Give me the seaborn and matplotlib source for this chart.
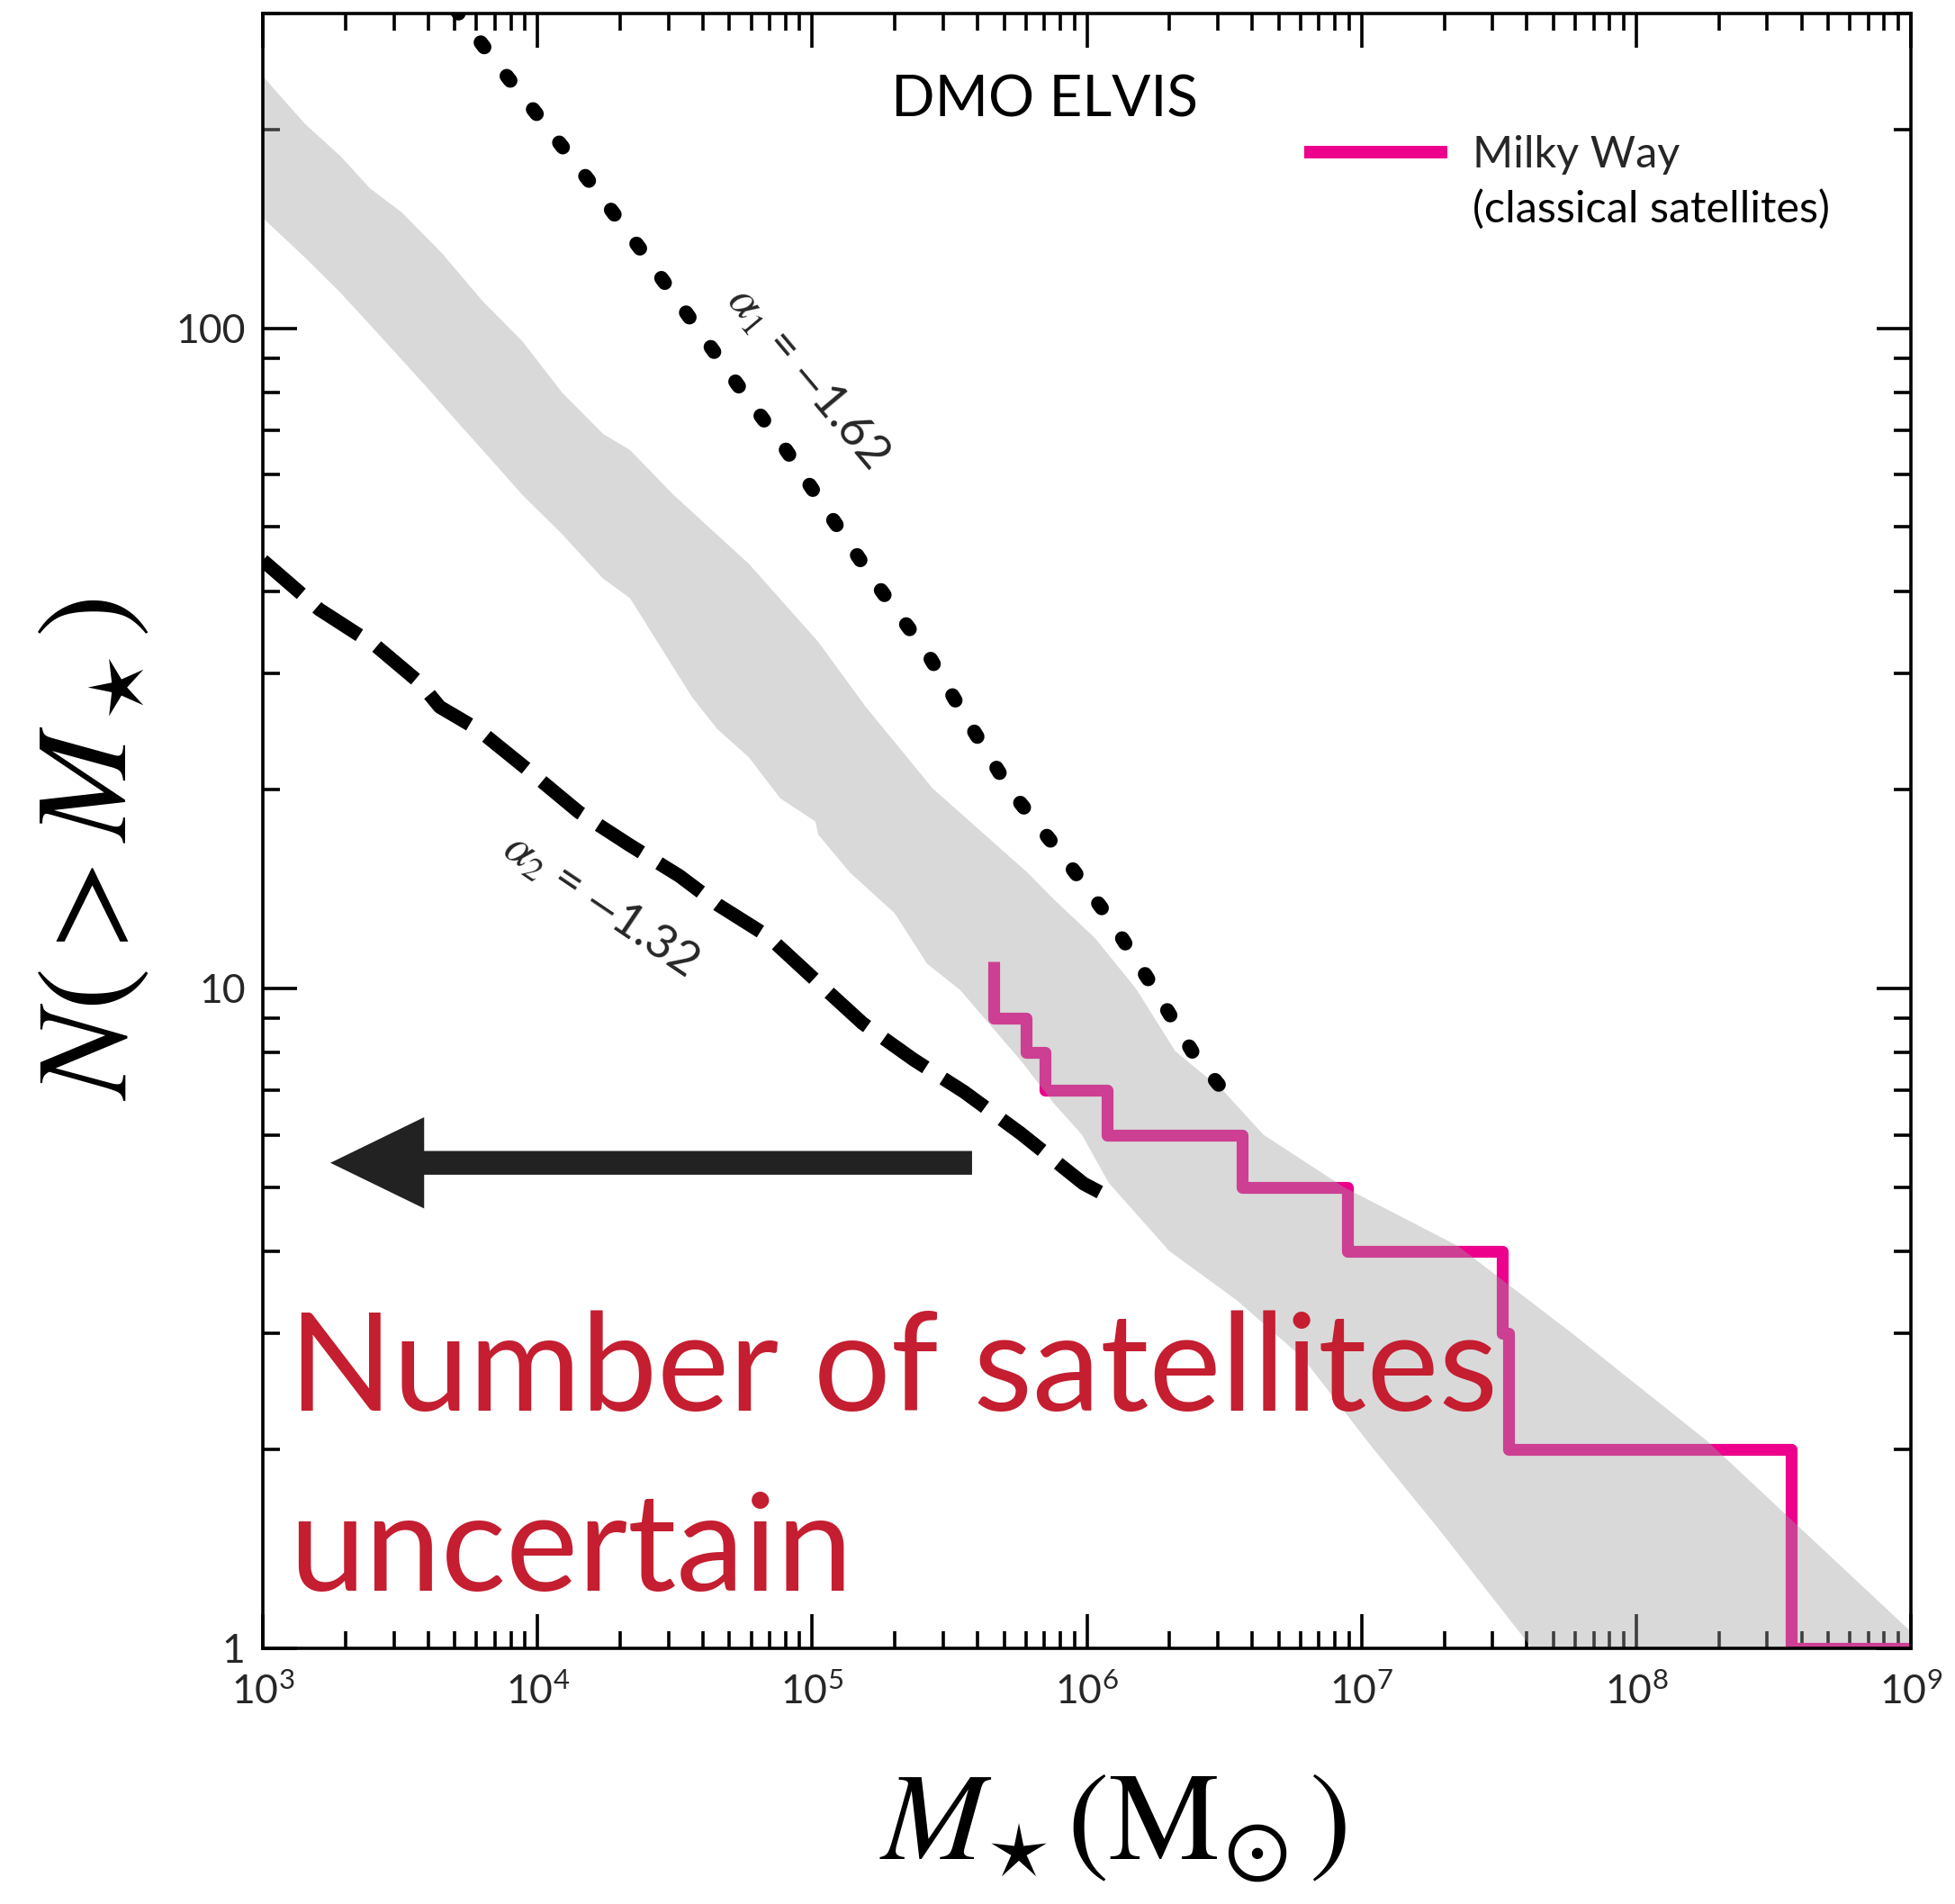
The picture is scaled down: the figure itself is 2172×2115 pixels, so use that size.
import numpy as np
import pandas as pd
import matplotlib
matplotlib.use("Agg")
import matplotlib.pyplot as plt
import seaborn as sns
from matplotlib.ticker import FixedLocator, FuncFormatter, NullFormatter

# ---------------- data (log10 of stellar mass, cumulative counts) ----------------
band_upper_logm = [3.0, 3.154, 3.285, 3.39, 3.505, 3.652, 3.80, 3.944, 4.091, 4.239,
                   4.337, 4.494, 4.769, 5.022, 5.195, 5.438, 5.782, 5.883, 6.031,
                   6.178, 6.322, 6.496, 6.643, 6.935, 7.351, 7.767, 8.259, 8.527, 9.0]
band_upper_n = [241, 204, 182, 163, 150, 130, 110, 95.7, 79.8, 69.2,
                65.4, 56, 44, 33.5, 26.7, 20.1, 15.0, 13.6, 11.9,
                10.0, 8.03, 7.0, 6.0, 5.0, 4.07, 3.0, 2.06, 1.62, 1.06]
band_lower_logm = [3.0, 3.154, 3.285, 3.433, 3.579, 3.695, 3.80, 3.944, 4.091, 4.238,
                   4.337, 4.563, 4.655, 4.769, 4.884, 5.012, 5.022, 5.136, 5.30,
                   5.418, 5.539, 5.638, 5.762, 5.883, 5.981, 6.08, 6.30, 6.545,
                   6.788, 7.033, 7.279, 7.597, 7.70, 9.0]
band_lower_n = [147, 128, 113, 96.8, 83, 73.2, 65.4, 56, 48.7, 41.8,
                39, 27.6, 24.7, 22.4, 19.4, 17.9, 17.1, 15.0, 13.0,
                10.9, 9.94, 8.9, 7.75, 6.67, 6.01, 5.07, 4.0, 3.37,
                2.75, 2.03, 1.52, 1.03, 0.9, 0.9]

alpha1_logm = [3.70, 3.842, 4.026, 4.209, 4.386, 4.56, 4.73, 4.904, 5.073, 5.241,
               5.415, 5.569, 5.723, 5.906, 6.08, 6.24, 6.391, 6.51]
alpha1_n = [305, 255, 204, 163, 130, 103, 82, 65.5, 51.5, 40.6,
            32.4, 25.3, 19.9, 16.0, 12.8, 10.07, 7.93, 6.9]

alpha2_logm = [3.0, 3.206, 3.413, 3.573, 3.644, 3.782, 3.967, 4.15, 4.334, 4.517,
               4.655, 4.838, 5.022, 5.184, 5.369, 5.553, 5.759, 5.988, 6.06]
alpha2_n = [44.5, 37.5, 33, 29, 26.7, 24.7, 21.4, 18.5, 16.5, 14.8,
            13.4, 12.0, 10.2, 8.85, 7.8, 6.97, 6.03, 5.06, 4.88]

mw_logm = [5.662, 5.662, 5.78, 5.846, 6.074, 6.564, 6.949, 7.511, 7.535, 8.564, 9.0]
mw_n = [11, 9, 8, 7, 6, 5, 4, 3, 2, 1, 1]

arrow_logm = [5.582, 3.246]
arrow_n = [5.44, 5.44]

x_tick_exponents = [3, 4, 5, 6, 7, 8, 9]
y_tick_values = [1, 10, 100]
y_tick_labels = ["1", "10", "100"]

# ---------------- style ----------------
sns.set_theme(style="ticks")
plt.rcParams["font.family"] = ["Lato", "DejaVu Sans"]
plt.rcParams["mathtext.fontset"] = "custom"
plt.rcParams["mathtext.rm"] = "Lato"
plt.rcParams["mathtext.it"] = "Lato:italic"
plt.rcParams["mathtext.bf"] = "Lato:bold"

PINK = "#EC008C"
RED = "#C41E30"

fig = plt.figure(figsize=(21.72, 21.15), dpi=100)
ax = fig.add_axes([0.13444, 0.13428, 0.84300, 0.85863])
ax.set_facecolor("white")

# gray band (drawn over the pink line with transparency)
bx = np.concatenate([10 ** np.array(band_upper_logm), (10 ** np.array(band_lower_logm))[::-1]])
by = np.concatenate([np.array(band_upper_n), np.array(band_lower_n)[::-1]])
ax.fill(bx, by, color="#A0A0A0", alpha=0.4, lw=0, zorder=3)

# Milky Way classical satellites (step)
mw_df = pd.DataFrame({"mass": 10 ** np.array(mw_logm), "n": mw_n})
sns.lineplot(data=mw_df, x="mass", y="n", sort=False, estimator=None, ax=ax,
             color=PINK, linewidth=9.5, drawstyle="steps-post", zorder=2,
             solid_joinstyle="round", solid_capstyle="butt", label="Milky Way")

# dotted alpha1 line
a1_df = pd.DataFrame({"mass": 10 ** np.array(alpha1_logm), "n": alpha1_n})
sns.lineplot(data=a1_df, x="mass", y="n", sort=False, estimator=None, ax=ax,
             color="black", linewidth=11.5, zorder=4, legend=False)
l1 = ax.lines[-1]
l1.set_linewidth(11.5)
l1.set_dashes([0.4, 2.55])
l1.set_dash_capstyle("round")

# dashed alpha2 line
a2_df = pd.DataFrame({"mass": 10 ** np.array(alpha2_logm), "n": alpha2_n})
sns.lineplot(data=a2_df, x="mass", y="n", sort=False, estimator=None, ax=ax,
             color="black", linewidth=11, zorder=4, legend=False)
l2 = ax.lines[-1]
l2.set_linewidth(11)
l2.set_dashes([3.7, 1.5])
l2.set_dash_capstyle("butt")

# arrow
ax.annotate("", xy=(10 ** arrow_logm[1], arrow_n[1]), xytext=(10 ** arrow_logm[0], arrow_n[0]),
            arrowprops=dict(arrowstyle="simple,head_length=75,head_width=73,tail_width=19",
                            mutation_scale=1, lw=0, fc="#222222", ec="none",
                            shrinkA=0, shrinkB=0),
            zorder=5)

# scales and limits
ax.set_xscale("log")
ax.set_yscale("log")
ax.set_xlim(1e3, 1e9)
ax.set_ylim(1, 300)

# ticks
ax.xaxis.set_major_locator(FixedLocator([10.0 ** e for e in x_tick_exponents]))
ax.xaxis.set_major_formatter(FuncFormatter(lambda v, p: r"$\mathregular{10^{%d}}$" % int(round(np.log10(v)))))
xminor = [m * 10.0 ** e for e in x_tick_exponents[:-1] for m in range(2, 10)]
ax.xaxis.set_minor_locator(FixedLocator(xminor))
ax.xaxis.set_minor_formatter(NullFormatter())
ax.yaxis.set_major_locator(FixedLocator(y_tick_values))
ax.set_yticklabels(y_tick_labels)
yminor = [m * 10.0 ** e for e in [0, 1, 2] for m in range(2, 10) if m * 10.0 ** e <= 300]
ax.yaxis.set_minor_locator(FixedLocator(yminor))
ax.yaxis.set_minor_formatter(NullFormatter())

ax.tick_params(which="both", direction="in", top=True, right=True, color="black", width=2.6)
ax.tick_params(which="major", length=27.5, labelsize=32, pad=14)
ax.tick_params(which="minor", length=14)
ax.tick_params(axis="x", which="major", pad=20)
for s in ax.spines.values():
    s.set_linewidth(2.6)
    s.set_color("black")
    s.set_zorder(6)

# axis labels
ax.set_xlabel(r"$M_{\!\star}(\mathrm{M}_{\!\odot})$", fontsize=100, math_fontfamily="stix", color="black")
ax.set_ylabel(r"$N(>M_\star)$", fontsize=104, math_fontfamily="stix", color="black")
ax.xaxis.set_label_coords(0.5156, -0.0743)
ax.yaxis.set_label_coords(-0.068, 0.489)

# annotations
ax.text(0.4746, 0.9367, "DMO ELVIS", transform=ax.transAxes, ha="center", va="baseline",
        fontsize=46, color="black", zorder=7)
ax.text(0.016, 0.1454, "Number of satellites", transform=ax.transAxes, ha="left", va="baseline",
        fontsize=109, color=RED, zorder=7)
ax.text(0.016, 0.0352, "uncertain", transform=ax.transAxes, ha="left", va="baseline",
        fontsize=109, color=RED, zorder=7)
ax.text(10 ** 4.982, 84.4, r"$\alpha_1$ = $-$1.62", rotation=-50, rotation_mode="anchor",
        ha="center", va="center", fontsize=38, math_fontfamily="stix", zorder=7)
ax.text(10 ** 4.229, 13.4, r"$\alpha_2$ = $-$1.32", rotation=-34, rotation_mode="anchor",
        ha="center", va="center", fontsize=38, math_fontfamily="stix", zorder=7)

# legend
leg = ax.legend(loc="center left", bbox_to_anchor=(0.6319, 0.9136), frameon=False,
                fontsize=35, handlelength=3.27, handletextpad=0.58, borderpad=0, borderaxespad=0)
for h in leg.get_lines():
    h.set_linewidth(10)
ax.text(0.734, 0.8722, "(classical satellites)", transform=ax.transAxes, ha="left", va="baseline",
        fontsize=35, color="black", zorder=7)

fig.savefig("out.png", dpi=100, facecolor="white")
